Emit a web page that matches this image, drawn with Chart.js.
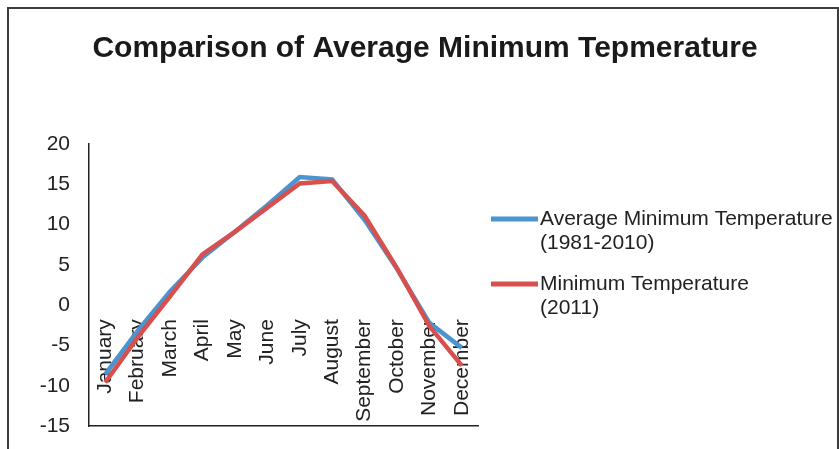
<!DOCTYPE html>
<html>
<head>
<meta charset="utf-8">
<title>Comparison of Average Minimum Tepmerature</title>
<script src="https://cdn.jsdelivr.net/npm/chart.js@4/dist/chart.umd.min.js"></script>
<style>
  html, body { margin: 0; padding: 0; background: #ffffff; }
  canvas { display: block; }
</style>
</head>
<body>
<canvas id="chart" width="839" height="449"></canvas>
<script>
// Months along the category axis
const months = ['January', 'February', 'March', 'April', 'May', 'June',
                'July', 'August', 'September', 'October', 'November', 'December'];

// Average minimum temperature, 1981-2010 (°C)
const avgMin1981to2010 = [-8.6, -3.2, 1.7, 5.9, 9.1, 12.4, 15.9, 15.6, 10.6, 4.5, -2.2, -5.3];

// Minimum temperature, 2011 (°C)
const min2011 = [-9.6, -4.0, 1.1, 6.3, 9.1, 12.1, 15.1, 15.4, 11.1, 4.6, -2.6, -7.5];

// Series names; "\n" marks where the legend text breaks
const seriesNames = ['Average Minimum Temperature\n(1981-2010)', 'Minimum Temperature\n(2011)'];
const seriesColors = ['#4a94cf', '#d8504e'];

// Value axis range and step
const yMin = -15;
const yMax = 20;
const yStep = 5;

const FONT = '"Liberation Sans", Arial, Helvetica, sans-serif';
const TEXT = '#222222';

// Outer frame around the whole chart
const framePlugin = {
  id: 'frame',
  beforeDraw(chart) {
    const ctx = chart.ctx;
    ctx.save();
    ctx.fillStyle = '#ffffff';
    ctx.fillRect(0, 0, chart.width, chart.height);
    ctx.strokeStyle = '#3c3c3c';
    ctx.lineWidth = 2;
    ctx.beginPath();
    ctx.moveTo(8, chart.height + 5);
    ctx.lineTo(8, 8);
    ctx.lineTo(chart.width - 1, 8);
    ctx.lineTo(chart.width - 1, chart.height + 5);
    ctx.stroke();
    ctx.restore();
  }
};

// Legend on the right, each name on two lines
const sideLegendPlugin = {
  id: 'sideLegend',
  afterDraw(chart, args, opts) {
    const ctx = chart.ctx;
    ctx.save();
    ctx.font = opts.fontSize + 'px ' + FONT;
    ctx.textBaseline = 'middle';
    ctx.textAlign = 'left';
    chart.data.datasets.forEach((ds, i) => {
      const y0 = opts.top + i * opts.itemGap;
      ctx.strokeStyle = ds.borderColor;
      ctx.lineWidth = 5;
      ctx.lineCap = 'butt';
      ctx.beginPath();
      ctx.moveTo(opts.left, y0);
      ctx.lineTo(opts.left + opts.swatch, y0);
      ctx.stroke();
      ctx.fillStyle = TEXT;
      ds.label.split('\n').forEach((ln, k) => {
        ctx.fillText(ln, opts.left + opts.swatch + 2, y0 + k * opts.lineHeight);
      });
    });
    ctx.restore();
  }
};

new Chart(document.getElementById('chart'), {
  type: 'line',
  data: {
    labels: months,
    datasets: [
      {
        label: seriesNames[0],
        data: avgMin1981to2010,
        borderColor: seriesColors[0],
        backgroundColor: seriesColors[0],
        borderWidth: 4.5,
        pointRadius: 0,
        tension: 0,
        fill: false,
        order: 1
      },
      {
        label: seriesNames[1],
        data: min2011,
        borderColor: seriesColors[1],
        backgroundColor: seriesColors[1],
        borderWidth: 4.5,
        pointRadius: 0,
        tension: 0,
        fill: false,
        order: 0
      }
    ]
  },
  options: {
    responsive: false,
    animation: false,
    devicePixelRatio: 1,
    layout: { padding: { left: 11, right: 0, top: 0, bottom: 23 } },
    plugins: {
      legend: { display: false },
      tooltip: { enabled: false },
      title: {
        display: true,
        text: 'Comparison of Average Minimum Tepmerature',
        color: '#1a1a1a',
        font: { family: FONT, size: 30, weight: 'bold' },
        padding: { top: 31, bottom: 77 }
      },
      sideLegend: {
        left: 491, top: 219, itemGap: 65, swatch: 47,
        lineHeight: 24, fontSize: 21
      }
    },
    scales: {
      x: {
        type: 'category',
        axis: 'x',
        position: { y: 0 },
        offset: true,
        grid: { display: false, drawTicks: false },
        border: { display: false },
        ticks: {
          autoSkip: false,
          minRotation: 90,
          maxRotation: 90,
          padding: 14,
          color: TEXT,
          font: { family: FONT, size: 21 }
        },
        afterFit(scale) { scale.height = 0; }
      },
      xb: {
        type: 'category',
        axis: 'x',
        position: 'bottom',
        offset: true,
        grid: { display: false, drawTicks: false },
        border: { display: true, color: '#222222', width: 1.5 },
        ticks: { display: false },
        afterFit(scale) { scale.height = 0; }
      },
      y: {
        type: 'linear',
        position: 'left',
        min: yMin,
        max: yMax,
        grid: { display: false, drawTicks: false },
        border: { display: true, color: '#222222', width: 1.5 },
        ticks: {
          stepSize: yStep,
          padding: 19,
          color: TEXT,
          font: { family: FONT, size: 21 }
        },
        afterFit(scale) {
          scale.width = 78;
          scale.paddingTop = 0;
          scale.paddingBottom = 0;
        }
      },
      yr: {
        type: 'linear',
        position: 'right',
        min: yMin,
        max: yMax,
        grid: { display: false, drawTicks: false },
        border: { display: false },
        ticks: { display: false },
        afterFit(scale) {
          scale.width = 361;
          scale.paddingTop = 0;
          scale.paddingBottom = 0;
        }
      }
    }
  },
  plugins: [framePlugin, sideLegendPlugin]
});
</script>
</body>
</html>
